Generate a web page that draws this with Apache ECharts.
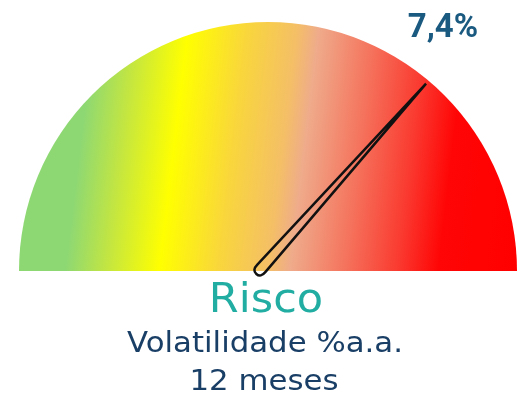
<!DOCTYPE html>
<html><head><meta charset="utf-8">
<script src="https://cdn.jsdelivr.net/npm/echarts@6/dist/echarts.min.js"></script>
<style>html,body{margin:0;padding:0;background:#fff}#c{width:519px;height:400px}</style>
</head><body><div id="c"></div>
<script>
// data
const gaugeMin = 0;
const gaugeMax = 10;
const riskValues = [7.4];
const headline = 'Risco';
const subLines = ['Volatilidade %a.a.', '12 meses'];

function fmt(v) { return v.toFixed(1).replace('.', ',') + '%'; }

const grad = {
  type: 'linear', global: true, x: 21, y: 271, x2: 508, y2: 329,
  colorStops: [
    { offset: 0, color: '#8ed873' },
    { offset: 0.09, color: '#8ed873' },
    { offset: 0.175, color: '#c4e640' },
    { offset: 0.28, color: '#ffff00' },
    { offset: 0.40, color: '#f9d63c' },
    { offset: 0.50, color: '#f4bf66' },
    { offset: 0.545, color: '#efab8b' },
    { offset: 0.661, color: '#f5705a' },
    { offset: 0.762, color: '#fa3a30' },
    { offset: 0.845, color: '#ff0505' },
    { offset: 1, color: '#ff0000' }
  ]
};

const chart = echarts.init(document.getElementById('c'), null, { renderer: 'canvas' });
chart.setOption({
  animation: false,
  series: [
    {
      type: 'gauge', center: [268, 271], radius: 249,
      startAngle: 180, endAngle: 0, min: gaugeMin, max: gaugeMax,
      axisLine: { lineStyle: { width: 249, color: [[1, grad]] } },
      splitLine: { show: false }, axisTick: { show: false }, axisLabel: { show: false },
      pointer: { show: false }, anchor: { show: false }, title: { show: false }, detail: { show: false },
      data: [{ value: riskValues[0] }]
    },
    {
      type: 'gauge', center: [259, 271], radius: 249,
      startAngle: 180, endAngle: 2, min: gaugeMin, max: gaugeMax,
      axisLine: { show: false },
      splitLine: { show: false }, axisTick: { show: false }, axisLabel: { show: false },
      anchor: { show: false }, title: { show: false },
      pointer: {
        icon: 'path://M5 0 L10 97 Q10.3 100 5 100 Q-0.3 100 0 97 Z',
        length: 255, width: 11, offsetCenter: [0, 4],
        itemStyle: { color: 'rgba(0,0,0,0)', borderColor: '#111', borderWidth: 2.5 }
      },
      detail: {
        show: true, offsetCenter: [184, -242], formatter: fmt,
        fontFamily: 'Roboto', fontWeight: 'bold', fontSize: 33, color: '#1b5a80'
      },
      data: [{ value: riskValues[0] }]
    }
  ],
  graphic: [
    { type: 'text', x: 266, y: 301, scaleX: 1.05, style: { text: headline, x: 0, y: 0, align: 'center', verticalAlign: 'middle', font: '41px "DejaVu Sans"', fill: '#22ada3' } },
    { type: 'text', x: 265, y: 345, scaleX: 1.1, style: { text: subLines[0], x: 0, y: 0, align: 'center', verticalAlign: 'middle', font: '28px "DejaVu Sans"', fill: '#1a3f66' } },
    { type: 'text', x: 264, y: 383, scaleX: 1.1, style: { text: subLines[1], x: 0, y: 0, align: 'center', verticalAlign: 'middle', font: '28px "DejaVu Sans"', fill: '#1a3f66' } }
  ]
});
</script></body></html>
